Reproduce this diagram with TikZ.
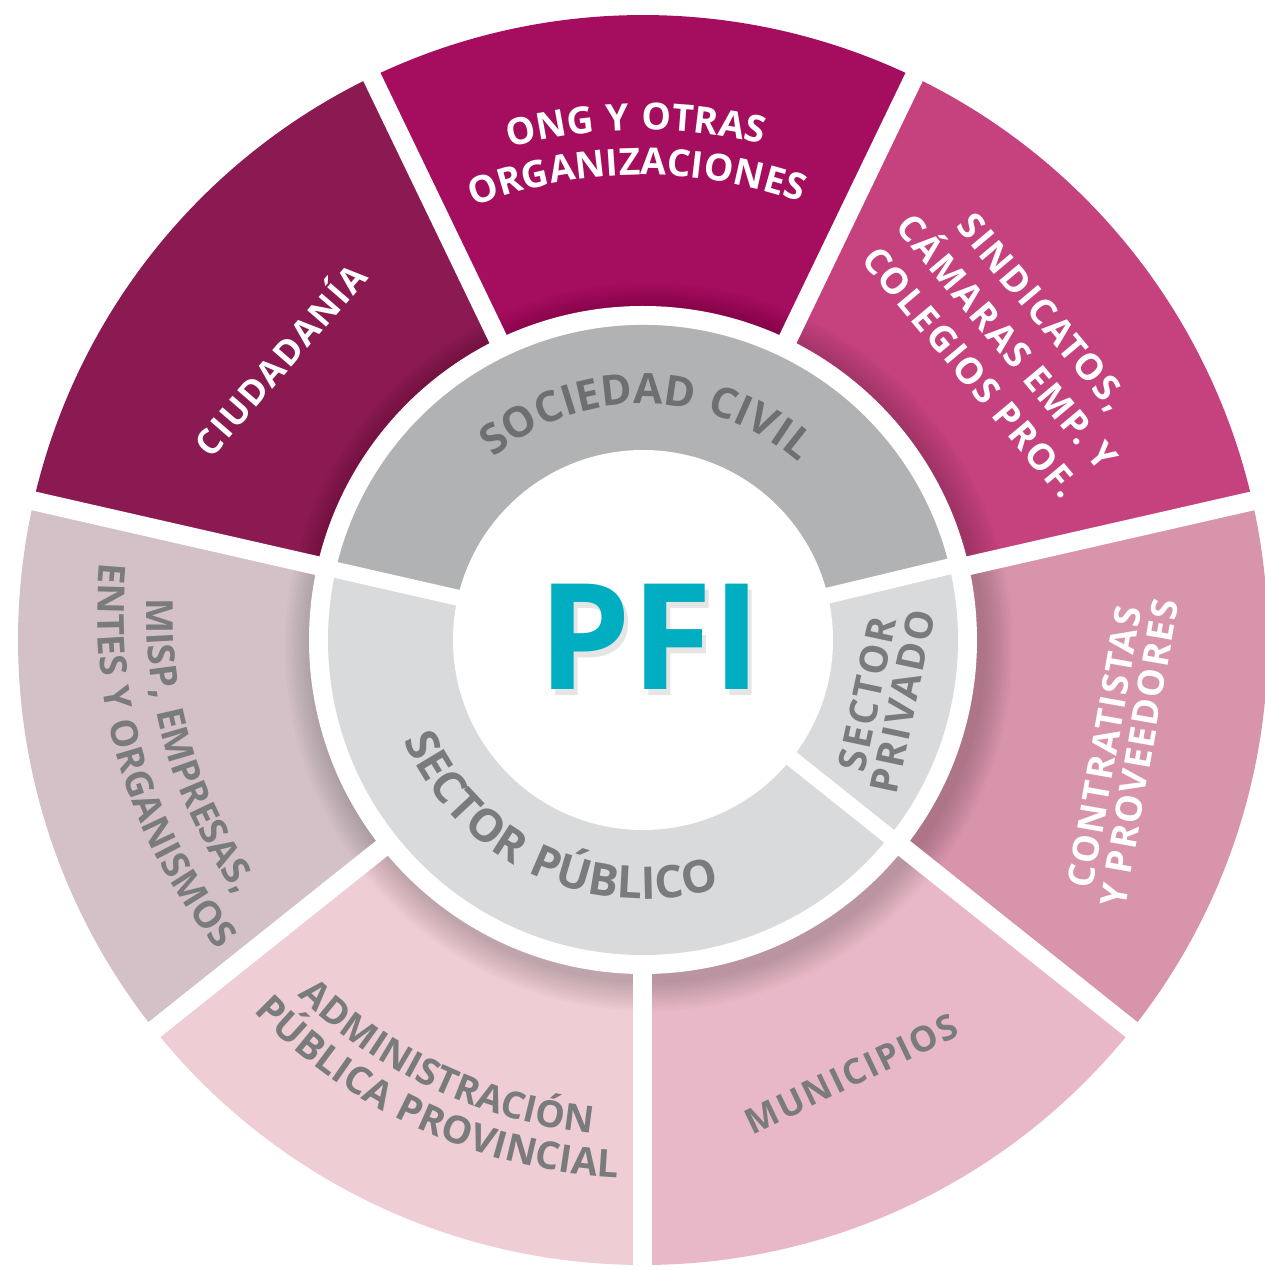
\documentclass[tikz,border=0pt]{standalone}
\usepackage{fontspec}
\usetikzlibrary{decorations.text}

\newfontfamily\lblfont{Open Sans}[LetterSpace=5]
\newfontfamily\ringlblfont{Open Sans}[LetterSpace=6]
\newfontfamily\pfifont{Open Sans}

\definecolor{munic}{HTML}{E9B8C8}
\definecolor{contc}{HTML}{D894AB}
\definecolor{sindc}{HTML}{C6427E}
\definecolor{ongc}{HTML}{A50D5E}
\definecolor{ciudc}{HTML}{8A1A51}
\definecolor{mispc}{HTML}{D4C1C8}
\definecolor{admc}{HTML}{EFCDD5}
\definecolor{civilc}{HTML}{B1B2B4}
\definecolor{sectc}{HTML}{D9DADC}
\definecolor{lblgray}{HTML}{797B7D}
\definecolor{civgray}{HTML}{6D6F71}
\definecolor{pfic}{HTML}{00ADC1}

\newcommand{\outerfont}{\lblfont\bfseries\fontsize{10}{12}\selectfont}
\newcommand{\curvefont}{\lblfont\bfseries\fontsize{10.6}{12}\selectfont}
\newcommand{\ringfont}{\ringlblfont\bfseries\fontsize{12}{13}\selectfont}

\begin{document}
\begin{tikzpicture}[
  gapline/.style={white,line width=1.9mm},
  outerlabel/.style={align=center,inner sep=0pt},
  arclabel/.style={decorate,decoration={text along path,text align=center,text color=#1}},
  pfistyle/.style={font=\pfifont\bfseries\fontsize{42}{42}\selectfont,inner sep=0pt}
]
\useasboundingbox (-6.43,-6.30) rectangle (6.22,6.40);

% outer ring: seven equal segments, starting at the bottom
\foreach \c [count=\k from 0] in {munic,contc,sindc,ongc,ciudc,mispc,admc}
  \fill[\c] (0,0) -- ({-90+\k*360/7}:6.25) arc[start angle={-90+\k*360/7},delta angle={360/7},radius=6.25] -- cycle;

% soft shadow of the inner ring on the outer ring
\foreach \i in {1,...,12}
  \fill[black,opacity=0.014] (0.06,-0.07) circle ({3.34+0.025*\i});

\foreach \k in {0,...,6}
  \draw[gapline] ({-90+\k*360/7}:3.2) -- ({-90+\k*360/7}:6.4);

% inner ring
\fill[white] (0,0) circle (3.34);
\fill[sectc] (0,0) circle (3.15);
\fill[civilc] (0,0) -- (13.5:3.15) arc[start angle=13.5,end angle=167.143,radius=3.15] -- cycle;
\foreach \a in {-38.571,13.5,167.143}
  \draw[gapline,line width=1.6mm] (\a:1.7) -- (\a:3.3);
\fill[white] (0,0) circle (1.90);

% centre
\node[pfistyle,text=black,opacity=0.10] (pfishadow) at (0.11,-0.03) {PFI};
\node[pfistyle,text=pfic] (pfi) at (0.07,0.03) {PFI};

% inner ring labels
\path[arclabel=civgray,decoration={text={|\ringfont|SOCIEDAD CIVIL}}]
  (150:2.36) arc[start angle=150,end angle=28,radius=2.36];
\path[arclabel=lblgray,decoration={text={|\ringlblfont\bfseries\fontsize{12.8}{13}\selectfont|SECTOR PÚBLICO}}]
  (185:2.59) arc[start angle=185,end angle=305,radius=2.59];
\node[outerlabel,text=lblgray,rotate=78,font=\ringlblfont\bfseries\fontsize{11}{10.3}\selectfont] (priv) at (2.42,-0.58) {SECTOR\\PRIVADO};

% outer ring labels
\path[arclabel=white,decoration={text={|\curvefont|ONG Y OTRAS}}]
  (125.8:5.10) arc[start angle=125.8,end angle=55.8,radius=5.10];
\path[arclabel=white,decoration={text={|\curvefont|ORGANIZACIONES}}]
  (125.8:4.65) arc[start angle=125.8,end angle=55.8,radius=4.65];

\node[outerlabel,text=white,rotate=49,font=\outerfont] (ciud) at (-3.65,2.82) {CIUDADANÍA};

\node[outerlabel,text=white,rotate=-50,font=\lblfont\bfseries\fontsize{10.3}{13.4}\selectfont] (sind) at (3.64,2.98)
  {SINDICATOS,\\CÁMARAS EMP. Y\\COLEGIOS PROF.};

\node[outerlabel,text=white,rotate=80,font=\lblfont\bfseries\fontsize{10.3}{10}\selectfont] (cont) at (4.79,-1.10)
  {CONTRATISTAS\\Y PROVEEDORES};

\node[outerlabel,text=lblgray,rotate=25.6,font=\outerfont] (muni) at (2.085,-4.34) {MUNICIPIOS};

\path[arclabel=lblgray,decoration={text={|\curvefont|ADMINISTRACIÓN}}]
  (205:4.96) arc[start angle=205,end angle=285,radius=4.96];
\path[arclabel=lblgray,decoration={text={|\lblfont\bfseries\fontsize{10.9}{12}\selectfont|PÚBLICA PROVINCIAL}}]
  (205.5:5.38) arc[start angle=205.5,end angle=285.5,radius=5.38];

\path[arclabel=lblgray,decoration={text={|\curvefont|MISP, EMPRESAS,}}]
  ([shift={(-0.17,0.26)}]167:4.795) arc[start angle=167,end angle=227,radius=4.795];
\path[arclabel=lblgray,decoration={text={|\curvefont|ENTES Y ORGANISMOS}}]
  ([shift={(-0.17,0.26)}]167:5.285) arc[start angle=167,end angle=227,radius=5.285];
\end{tikzpicture}
\end{document}
